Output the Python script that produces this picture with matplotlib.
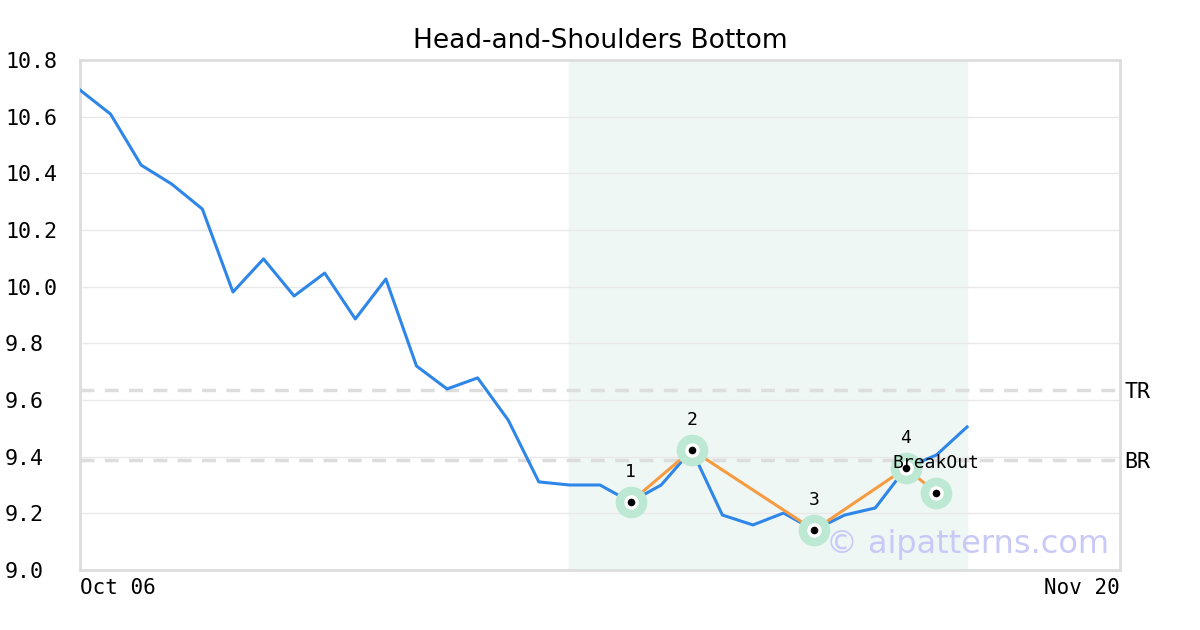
import matplotlib
matplotlib.use("Agg")
import matplotlib.pyplot as plt

title = "Head-and-Shoulders Bottom"
prices = [10.694, 10.609, 10.429, 10.362, 10.274, 9.981, 10.098, 9.967, 10.048, 9.886,
          10.027, 9.720, 9.639, 9.678, 9.529, 9.311, 9.300, 9.300, 9.240, 9.300,
          9.424, 9.194, 9.159, 9.201, 9.141, 9.194, 9.219, 9.360, 9.406, 9.505]
pattern_idx = [18, 20, 24, 27, 28]
pattern_vals = [9.240, 9.424, 9.141, 9.360, 9.272]
pattern_labels = ["1", "2", "3", "4", "BreakOut"]
tr_level = 9.635
br_level = 9.388
shade_start, shade_end = 16, 29
x_max = 34
xtick_labels = ["Oct 06", "Nov 20"]
yticks = [9.0, 9.2, 9.4, 9.6, 9.8, 10.0, 10.2, 10.4, 10.6, 10.8]

mono = "DejaVu Sans Mono"
fig = plt.figure(figsize=(12, 6.3), dpi=100)
ax = fig.add_axes([80/1200, 60/630, 1040/1200, 510/630])
ax.set_xlim(0, x_max)
ax.set_ylim(9.0, 10.8)

ax.axvspan(shade_start, shade_end, color="#eff7f4", zorder=0)
for y in yticks:
    ax.axhline(y, color="#e8e8e8", lw=1, zorder=1)
ax.axhline(tr_level, color="#dddddd", lw=2.5, ls=(0, (4, 3)), zorder=1)
ax.axhline(br_level, color="#dddddd", lw=2.5, ls=(0, (4, 3)), zorder=1)
ax.text(x_max + 0.15, tr_level - 0.007, "TR", family=mono, fontsize=15.5, va="center", ha="left", clip_on=False)
ax.text(x_max + 0.15, br_level - 0.007, "BR", family=mono, fontsize=15.5, va="center", ha="left", clip_on=False)

ax.plot(range(len(prices)), prices, color="#2e86e8", lw=2.2, zorder=3)
ax.plot(pattern_idx, pattern_vals, color="#f59c42", lw=2.2, zorder=4)
ax.scatter(pattern_idx, pattern_vals, s=520, color="#bde8d3", zorder=5, linewidths=0)
ax.scatter(pattern_idx, pattern_vals, s=110, color="white", zorder=6, linewidths=0)
ax.scatter(pattern_idx, pattern_vals, s=30, color="black", zorder=7, linewidths=0)
for xi, yi, lab in zip(pattern_idx, pattern_vals, pattern_labels):
    ax.annotate(lab, (xi, yi), xytext=(0, 15), textcoords="offset points",
                ha="center", va="bottom", family=mono, fontsize=13, zorder=8)

ax.text(0.99, 0.05, "© aipatterns.com", transform=ax.transAxes, ha="right", va="center",
        fontsize=23, color="#c9c9f7", zorder=9)

ax.set_yticks(yticks)
ax.set_yticklabels([f"{v:.1f}" for v in yticks], family=mono, fontsize=15.6)
for t in ax.get_yticklabels():
    t.set_ha("left")
ax.set_xticks([0, x_max])
ax.set_xticklabels(xtick_labels, family=mono, fontsize=15)
xl = ax.get_xticklabels()
xl[0].set_ha("left")
xl[1].set_ha("right")
ax.tick_params(axis="x", length=0, pad=6)
ax.tick_params(axis="y", length=0, pad=54)
for s in ax.spines.values():
    s.set_color("#dddddd")
    s.set_linewidth(2)
ax.set_title(title, fontsize=19, pad=9)

fig.savefig("out.png", dpi=100)
